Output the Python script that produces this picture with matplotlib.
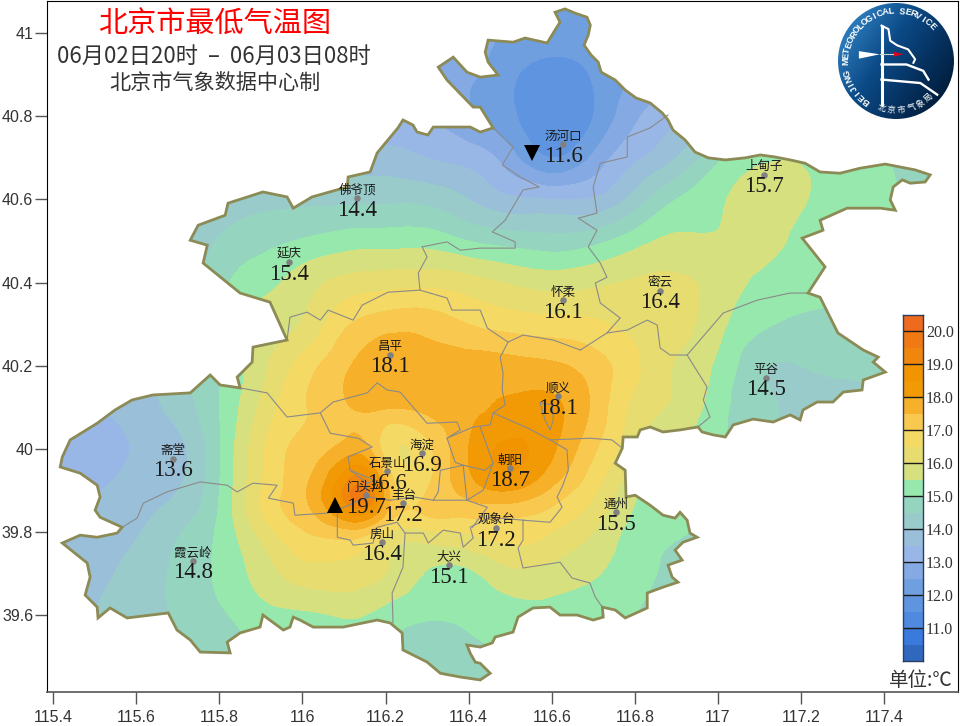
import matplotlib
matplotlib.use("Agg")
import matplotlib.pyplot as plt
import numpy as np
from matplotlib.patches import Circle, Polygon
from matplotlib.tri import Triangulation, UniformTriRefiner

plt.rcParams['font.family'] = ['Noto Sans CJK SC', 'DejaVu Sans']

# band edges and fills of the colour scale
levels = np.arange(10.0, 20.75, 0.5)
band_colors = ['#2F68BE', '#3A7ADC', '#4F8ADE', '#5F95E0', '#6F9FDF', '#85AAE3', '#99B7E6',
               '#9ABFD8', '#99CBCA', '#95D4BF', '#97E8AC', '#D7E07F', '#E7DC70', '#F4D964',
               '#F9C84F', '#F6B02A', '#F29A05', '#F29400', '#F0860C', '#F07914', '#EE6A1C']

# stations
station_names = ['汤河口', '上甸子', '佛爷顶', '延庆', '怀柔', '密云', '昌平', '平谷', '顺义', '海淀',
                 '朝阳', '斋堂', '石景山', '门头沟', '丰台', '观象台', '通州', '房山', '霞云岭', '大兴']
station_lon = [116.628, 117.111, 116.132, 115.968, 116.628, 116.861, 116.211, 117.116, 116.616, 116.288,
               116.500, 115.689, 116.204, 116.153, 116.243, 116.466, 116.755, 116.192, 115.737, 116.353]
station_lat = [40.733, 40.659, 40.603, 40.449, 40.358, 40.380, 40.226, 40.171, 40.127, 39.990,
               39.954, 39.976, 39.947, 39.889, 39.870, 39.810, 39.848, 39.776, 39.731, 39.721]
station_temp = [11.6, 15.7, 14.4, 15.4, 16.1, 16.4, 18.1, 14.5, 18.1, 16.9,
                18.7, 13.6, 16.6, 19.7, 17.2, 17.2, 15.5, 16.4, 14.8, 15.1]

# highest / lowest markers
max_lon, max_lat = 116.079, 39.865
min_lon, min_lat = 116.553, 40.712

# temperature on a lon/lat grid
grid_lon = [115.4, 115.5, 115.6, 115.7, 115.8, 115.9, 116.0, 116.1, 116.15, 116.2, 116.3, 116.4,
            116.5, 116.6, 116.7, 116.8, 116.9, 117.0, 117.1, 117.2, 117.3, 117.4, 117.5, 117.6]
grid_lat = [41.1, 41.0, 40.9, 40.8, 40.7, 40.6, 40.5, 40.4, 40.3, 40.2, 40.1, 40.0, 39.9, 39.85,
            39.8, 39.7, 39.6, 39.5, 39.4]
grid_temp = [
    [13.8, 13.8, 13.8, 13.8, 13.8, 13.7, 13.6, 13.5, 13.4, 13.3, 13.2, 13.0, 12.7, 12.6, 12.6, 13.0, 13.4, 13.8, 14.1, 14.5, 14.7, 14.8, 14.8, 14.8],
    [13.9, 13.9, 13.9, 13.9, 13.9, 13.8, 13.6, 13.5, 13.4, 13.3, 13.2, 12.9, 12.4, 12.3, 12.3, 12.8, 13.2, 13.6, 14.0, 14.4, 14.6, 14.8, 14.8, 14.8],
    [14.0, 14.0, 14.0, 14.0, 14.0, 14.0, 13.7, 13.5, 13.3, 13.2, 12.9, 12.6, 12.1, 11.8, 12.05, 12.6, 13.0, 13.6, 14.2, 14.6, 14.8, 14.9, 14.9, 14.8],
    [14.0, 14.0, 14.0, 14.0, 14.0, 14.0, 13.9, 13.6, 13.4, 13.2, 13.0, 12.6, 12.1, 11.6, 12.0, 12.9, 13.4, 14.0, 14.7, 15.0, 15.1, 15.0, 14.9, 14.8],
    [14.0, 14.0, 14.0, 14.0, 14.1, 14.1, 14.1, 13.9, 13.75, 13.7, 13.5, 13.3, 12.7, 12.0, 12.6, 13.4, 14.0, 14.9, 15.4, 15.45, 15.3, 15.05, 14.7, 14.6],
    [14.0, 14.0, 14.0, 14.0, 14.2, 14.35, 14.4, 14.4, 14.4, 14.4, 14.35, 14.0, 13.6, 13.5, 13.55, 14.2, 15.0, 15.4, 15.75, 15.55, 15.35, 15.15, 14.8, 14.7],
    [14.0, 14.0, 14.0, 14.1, 14.55, 14.85, 15.05, 15.25, 15.3, 15.3, 15.3, 15.0, 14.8, 14.7, 14.85, 15.3, 15.6, 15.55, 15.7, 15.35, 15.25, 15.1, 14.9, 14.8],
    [14.0, 14.0, 14.0, 14.1, 14.85, 15.3, 15.75, 16.15, 16.25, 16.3, 16.35, 16.2, 15.95, 15.8, 15.9, 16.05, 16.1, 15.8, 15.4, 15.2, 15.1, 15.0, 14.9, 14.8],
    [14.0, 14.0, 14.0, 14.2, 15.0, 15.75, 16.05, 16.9, 17.15, 17.3, 17.3, 17.0, 16.8, 16.7, 16.6, 16.35, 16.2, 15.65, 15.1, 14.9, 14.85, 14.8, 14.7, 14.6],
    [14.0, 14.0, 13.9, 14.3, 15.0, 15.85, 16.7, 17.4, 17.7, 17.9, 17.75, 17.75, 17.7, 17.6, 17.25, 16.6, 15.95, 15.4, 14.6, 14.5, 14.55, 14.6, 14.6, 14.5],
    [13.3, 13.5, 13.75, 14.2, 15.0, 16.1, 16.95, 17.4, 17.6, 17.55, 17.65, 17.9, 18.1, 18.1, 17.4, 16.35, 15.9, 15.2, 14.65, 14.4, 14.4, 14.4, 14.4, 14.4],
    [13.1, 13.2, 13.55, 13.85, 14.95, 16.4, 17.15, 17.7, 17.7, 16.8, 16.85, 18.0, 18.6, 18.1, 17.1, 16.1, 15.5, 15.1, 14.6, 14.3, 14.2, 14.2, 14.2, 14.2],
    [13.3, 13.45, 13.75, 14.0, 15.0, 16.5, 17.4, 19.1, 19.6, 17.8, 17.0, 17.7, 18.0, 17.4, 16.6, 15.6, 15.25, 15.0, 14.5, 14.3, 14.2, 14.2, 14.2, 14.2],
    [13.45, 13.6, 13.85, 14.2, 15.05, 16.5, 17.3, 18.5, 18.7, 17.6, 17.1, 17.2, 17.2, 16.9, 16.3, 15.45, 15.15, 14.9, 14.5, 14.3, 14.2, 14.2, 14.2, 14.2],
    [13.6, 13.7, 13.95, 14.45, 15.1, 16.15, 16.95, 17.3, 17.2, 16.6, 16.4, 16.55, 16.75, 16.5, 16.0, 15.3, 15.05, 14.8, 14.5, 14.3, 14.2, 14.2, 14.2, 14.2],
    [13.7, 13.85, 14.2, 14.6, 15.1, 15.7, 16.25, 16.3, 16.15, 16.0, 15.45, 15.4, 15.85, 15.8, 15.55, 15.2, 14.85, 14.6, 14.4, 14.2, 14.1, 14.1, 14.1, 14.1],
    [13.8, 14.0, 14.2, 14.55, 14.9, 15.3, 15.4, 15.55, 15.5, 15.3, 15.05, 15.1, 15.3, 15.3, 15.2, 15.0, 14.7, 14.5, 14.3, 14.2, 14.1, 14.1, 14.1, 14.1],
    [13.8, 13.9, 14.0, 14.3, 14.6, 15.0, 15.0, 15.0, 15.0, 15.0, 14.7, 14.8, 15.0, 15.0, 14.9, 14.8, 14.5, 14.3, 14.2, 14.1, 14.1, 14.1, 14.1, 14.1],
    [13.8, 13.8, 13.9, 14.1, 14.4, 14.8, 14.7, 14.7, 14.7, 14.7, 14.5, 14.6, 14.7, 14.8, 14.7, 14.6, 14.4, 14.2, 14.1, 14.0, 14.0, 14.0, 14.0, 14.0],
]

# city border (lon, lat)
border = [
    (116.608, 41.050), (116.632, 41.058), (116.656, 41.048), (116.685, 41.038), (116.693, 41.019), (116.688, 40.995),
    (116.678, 40.971), (116.695, 40.947), (116.712, 40.930), (116.719, 40.906), (116.753, 40.887), (116.777, 40.863),
    (116.803, 40.844), (116.837, 40.832), (116.866, 40.808), (116.880, 40.791), (116.892, 40.767), (116.921, 40.743),
    (116.945, 40.714), (116.977, 40.700), (117.018, 40.695), (117.066, 40.700), (117.102, 40.707), (117.138, 40.702),
    (117.174, 40.695), (117.210, 40.687), (117.246, 40.666), (117.294, 40.663), (117.342, 40.675), (117.403, 40.685),
    (117.439, 40.678), (117.475, 40.671), (117.511, 40.659), (117.499, 40.642), (117.463, 40.639), (117.444, 40.647),
    (117.422, 40.630), (117.415, 40.599), (117.427, 40.574), (117.391, 40.579), (117.311, 40.579), (117.246, 40.550),
    (117.253, 40.526), (117.203, 40.507), (117.258, 40.438), (117.217, 40.375), (117.246, 40.365), (117.270, 40.317),
    (117.289, 40.279), (117.350, 40.238), (117.386, 40.221), (117.374, 40.209), (117.403, 40.185), (117.350, 40.166),
    (117.347, 40.142), (117.302, 40.137), (117.277, 40.113), (117.239, 40.113), (117.205, 40.094), (117.198, 40.070),
    (117.174, 40.082), (117.133, 40.065), (117.085, 40.072), (117.037, 40.058), (117.018, 40.029), (116.989, 40.034),
    (116.962, 40.041), (116.952, 40.053), (116.909, 40.046), (116.868, 40.041), (116.837, 40.053), (116.813, 40.046),
    (116.806, 40.029), (116.772, 40.029), (116.770, 40.002), (116.753, 39.966), (116.777, 39.949), (116.779, 39.885),
    (116.801, 39.889), (116.837, 39.865), (116.868, 39.841), (116.897, 39.834), (116.909, 39.848), (116.926, 39.829),
    (116.933, 39.798), (116.950, 39.788), (116.916, 39.776), (116.897, 39.757), (116.914, 39.733), (116.880, 39.721),
    (116.890, 39.692), (116.904, 39.680), (116.868, 39.668), (116.830, 39.654), (116.830, 39.618), (116.777, 39.594),
    (116.753, 39.613), (116.722, 39.620), (116.724, 39.596), (116.700, 39.589), (116.661, 39.601), (116.620, 39.601),
    (116.596, 39.620), (116.555, 39.618), (116.519, 39.596), (116.507, 39.560), (116.464, 39.548), (116.457, 39.534),
    (116.428, 39.524), (116.396, 39.529), (116.404, 39.509), (116.416, 39.488), (116.428, 39.485), (116.452, 39.461),
    (116.428, 39.445), (116.380, 39.452), (116.332, 39.461), (116.300, 39.488), (116.242, 39.517), (116.240, 39.558),
    (116.211, 39.582), (116.180, 39.589), (116.146, 39.582), (116.098, 39.572), (116.026, 39.572), (115.994, 39.589),
    (115.978, 39.596), (115.970, 39.572), (115.954, 39.565), (115.905, 39.601), (115.898, 39.572), (115.850, 39.558),
    (115.819, 39.536), (115.826, 39.510), (115.754, 39.512), (115.730, 39.541), (115.698, 39.565), (115.677, 39.606),
    (115.578, 39.594), (115.537, 39.618), (115.508, 39.594), (115.506, 39.620), (115.477, 39.649), (115.489, 39.692),
    (115.482, 39.726), (115.422, 39.774), (115.465, 39.793), (115.506, 39.788), (115.554, 39.798), (115.566, 39.812),
    (115.513, 39.836), (115.501, 39.853), (115.513, 39.885), (115.506, 39.913), (115.465, 39.942), (115.417, 39.957),
    (115.422, 39.981), (115.441, 40.022), (115.506, 40.062), (115.549, 40.094), (115.590, 40.118), (115.640, 40.130),
    (115.730, 40.135), (115.778, 40.178), (115.802, 40.154), (115.850, 40.147), (115.843, 40.173), (115.879, 40.209),
    (115.881, 40.245), (115.963, 40.262), (115.922, 40.353), (115.850, 40.375), (115.761, 40.447), (115.771, 40.490),
    (115.730, 40.502), (115.749, 40.538), (115.814, 40.562), (115.821, 40.591), (115.905, 40.618), (115.963, 40.606),
    (115.978, 40.579), (116.023, 40.606), (116.108, 40.630), (116.110, 40.654), (116.163, 40.666), (116.180, 40.712),
    (116.230, 40.772), (116.242, 40.791), (116.266, 40.779), (116.276, 40.762), (116.302, 40.755), (116.315, 40.774),
    (116.404, 40.774), (116.428, 40.762), (116.459, 40.772), (116.428, 40.822), (116.411, 40.822), (116.348, 40.887),
    (116.327, 40.918), (116.363, 40.942), (116.396, 40.906), (116.428, 40.894), (116.471, 40.899), (116.447, 40.930),
    (116.440, 40.954), (116.447, 40.983), (116.507, 40.978), (116.536, 40.988), (116.589, 40.976), (116.608, 41.007),
    (116.620, 41.026),
]

# district boundaries (lon, lat)
districts = [
    [(116.880, 40.803), (116.837, 40.772), (116.782, 40.750), (116.782, 40.702), (116.717, 40.687), (116.700, 40.630),
     (116.709, 40.567), (116.664, 40.555), (116.709, 40.526), (116.688, 40.486), (116.717, 40.447), (116.733, 40.413),
     (116.705, 40.399), (116.717, 40.351), (116.765, 40.315), (116.733, 40.279), (116.669, 40.238)],
    [(117.217, 40.375), (117.174, 40.375), (117.095, 40.358), (117.013, 40.327), (116.957, 40.262), (116.926, 40.226),
     (116.885, 40.226), (116.861, 40.243), (116.854, 40.298), (116.830, 40.310), (116.782, 40.286), (116.733, 40.279)],
    [(116.926, 40.226), (116.974, 40.149), (116.965, 40.118), (116.981, 40.077), (116.952, 40.053)],
    [(116.283, 40.382), (116.348, 40.363), (116.360, 40.334), (116.428, 40.334), (116.445, 40.291), (116.495, 40.257),
     (116.531, 40.274), (116.604, 40.262), (116.669, 40.238)],
    [(116.495, 40.257), (116.476, 40.221), (116.483, 40.183), (116.481, 40.142), (116.488, 40.106), (116.459, 40.087),
     (116.452, 40.058), (116.411, 40.053)],
    [(116.459, 40.087), (116.543, 40.050), (116.596, 40.022), (116.692, 40.026), (116.745, 40.022), (116.770, 40.002)],
    [(116.596, 40.022), (116.637, 39.998), (116.640, 39.949), (116.625, 39.909), (116.613, 39.885), (116.625, 39.860),
     (116.596, 39.824), (116.531, 39.829)],
    [(116.531, 39.829), (116.531, 39.781), (116.519, 39.762), (116.531, 39.714), (116.620, 39.728), (116.649, 39.690),
     (116.692, 39.678), (116.705, 39.644), (116.722, 39.620)],
    [(115.963, 40.262), (115.970, 40.317), (116.011, 40.329), (116.043, 40.310), (116.062, 40.334), (116.122, 40.310),
     (116.144, 40.346), (116.206, 40.377), (116.283, 40.382), (116.279, 40.423), (116.300, 40.462), (116.288, 40.486),
     (116.348, 40.498), (116.380, 40.478), (116.428, 40.483), (116.512, 40.483), (116.512, 40.498), (116.457, 40.522),
     (116.488, 40.550), (116.531, 40.623), (116.570, 40.630), (116.524, 40.654), (116.481, 40.683), (116.507, 40.726),
     (116.459, 40.772)],
    [(115.850, 40.147), (115.915, 40.135), (115.963, 40.077), (116.043, 40.087), (116.074, 40.113), (116.156, 40.135),
     (116.180, 40.159), (116.204, 40.142), (116.235, 40.137), (116.300, 40.062), (116.372, 40.065), (116.380, 40.046),
     (116.348, 40.026), (116.411, 40.053)],
    [(116.043, 40.087), (116.067, 40.038), (116.134, 40.026), (116.168, 40.005), (116.110, 39.981), (116.115, 39.949),
     (116.156, 39.918), (116.151, 39.889)],
    [(115.566, 39.812), (115.602, 39.834), (115.617, 39.870), (115.674, 39.897), (115.754, 39.921), (115.819, 39.913),
     (115.843, 39.897), (115.881, 39.918), (115.939, 39.913), (115.918, 39.882), (115.978, 39.870), (115.982, 39.841),
     (116.060, 39.846), (116.084, 39.853), (116.156, 39.885), (116.211, 39.877), (116.266, 39.885), (116.315, 39.877),
     (116.396, 39.877)],
    [(116.084, 39.853), (116.084, 39.788), (116.115, 39.781), (116.122, 39.769), (116.170, 39.774), (116.180, 39.812),
     (116.228, 39.824), (116.247, 39.798), (116.242, 39.716), (116.216, 39.654), (116.218, 39.582)],
    [(116.247, 39.798), (116.291, 39.798), (116.303, 39.774), (116.339, 39.805), (116.380, 39.798), (116.387, 39.764),
     (116.411, 39.786), (116.404, 39.812), (116.452, 39.836), (116.531, 39.829)],
    [(116.348, 40.026), (116.368, 39.968), (116.387, 39.961), (116.332, 39.949), (116.327, 39.897), (116.315, 39.877)],
    [(116.387, 39.961), (116.396, 39.877), (116.445, 39.860), (116.409, 39.812)],
    [(116.387, 39.961), (116.440, 39.949), (116.459, 39.966), (116.428, 40.053)],
    [(116.459, 39.966), (116.435, 39.901), (116.396, 39.877)],
    [(116.115, 39.949), (116.175, 39.925), (116.156, 39.918)],
    [(116.572, 40.111), (116.584, 40.070), (116.596, 40.046), (116.604, 40.070), (116.601, 40.106), (116.572, 40.111)],
]

# axis ticks
x_ticks = [115.4, 115.6, 115.8, 116.0, 116.2, 116.4, 116.6, 116.8, 117.0, 117.2, 117.4]
x_labels = ['115.4', '115.6', '115.8', '116', '116.2', '116.4', '116.6', '116.8', '117', '117.2', '117.4']
y_ticks = [39.6, 39.8, 40.0, 40.2, 40.4, 40.6, 40.8, 41.0]
y_labels = ['39.6', '39.8', '40', '40.2', '40.4', '40.6', '40.8', '41']
bar_ticks = [11, 12, 13, 14, 15, 16, 17, 18, 19, 20]

W, H = 960, 726
fig = plt.figure(figsize=(W / 100, H / 100), dpi=100)
ax = fig.add_axes([46.5 / W, 1 - 692 / H, (958 - 46.5) / W, (692 - 1) / H])
ax.set_xlim(115.384, 117.578)
ax.set_ylim(39.416, 41.077)

# filled temperature bands, cut to the border
lon2d, lat2d = np.meshgrid(grid_lon, grid_lat)
tri = Triangulation(lon2d.ravel(), lat2d.ravel())
tri_fine, temp_fine = UniformTriRefiner(tri).refine_field(np.array(grid_temp).ravel(), subdiv=3)
bands = ax.tricontourf(tri_fine, temp_fine, levels=levels, colors=band_colors, zorder=1)
clip = Polygon(border, closed=True, transform=ax.transData, facecolor='none', edgecolor='none')
ax.add_patch(clip)
bands.set_clip_path(clip)

for line in districts:
    xy = np.array(line)
    ax.plot(xy[:, 0], xy[:, 1], color='#8a8a8a', lw=0.8, zorder=2)
ax.add_patch(Polygon(border, closed=True, facecolor='none', edgecolor='#8C8A55', lw=2.0, zorder=3))

# stations
ax.scatter(station_lon, station_lat, s=22, color='#808080', zorder=4, linewidths=0)
for name, lon, lat, temp in zip(station_names, station_lon, station_lat, station_temp):
    ax.annotate(name, (lon, lat), xytext=(0, 5.8), textcoords='offset points', ha='center', va='center',
                fontsize=9, color='#1a1a1a', zorder=5)
    ax.annotate('%.1f' % temp, (lon, lat), xytext=(0, -8.6), textcoords='offset points', ha='center', va='center',
                fontsize=16.5, family='Liberation Serif', color='#1a1a1a', zorder=5)
ax.plot(max_lon, max_lat, '^', color='black', ms=12, mew=0, zorder=6)
ax.plot(min_lon, min_lat, 'v', color='black', ms=12, mew=0, zorder=6)

ax.set_xticks(x_ticks)
ax.set_xticklabels(x_labels, family='Liberation Sans', fontsize=11.5, color='#333333')
ax.set_yticks(y_ticks)
ax.set_yticklabels(y_labels, family='Liberation Sans', fontsize=11.5, color='#333333')
ax.tick_params(axis='both', length=8.6, width=1, color='#555555')
ax.tick_params(axis='x', pad=4)
ax.tick_params(axis='y', pad=1)
for side in ['left', 'top', 'right']:
    ax.spines[side].set_color('black')
ax.spines['bottom'].set_color('#555555')
ax.spines['bottom'].set_linewidth(1.2)

# titles
fig.text(215 / W, 1 - 25 / H, '北京市最低气温图', color='red', fontsize=21, ha='center', va='center')
fig.text(214 / W, 1 - 56 / H, '06月02日20时  –  06月03日08时', color='#333333', fontsize=16, ha='center', va='center')
fig.text(215 / W, 1 - 83 / H, '北京市气象数据中心制', color='#333333', fontsize=15.2, ha='center', va='center')
fig.text(921 / W, 1 - 680 / H, '单位:℃', color='#333333', fontsize=14, ha='center', va='center')

# colour scale
bar = fig.add_axes([903 / W, 1 - 661 / H, 20 / W, 346 / H])
bar.barh(levels[:-1], 1, height=0.5, align='edge', color=band_colors, linewidth=0)
bar.hlines(bar_ticks, 0, 1, color='#1a1a1a', lw=1)
bar.set_xlim(0, 1)
bar.set_ylim(10, 20.5)
bar.set_xticks([])
bar.yaxis.tick_right()
bar.set_yticks(bar_ticks)
bar.set_yticklabels(['%.1f' % t for t in bar_ticks], family='Liberation Serif', fontsize=11.5, color='#333333')
bar.tick_params(axis='y', length=0, pad=2)
for s in bar.spines.values():
    s.set_color('#2a3f5f')
    s.set_linewidth(1)

# logo
logo = fig.add_axes([838 / W, 1 - 119 / H, 116 / W, 116 / H])
logo.set_xlim(-1, 1)
logo.set_ylim(-1, 1)
logo.axis('off')
ramp = np.linspace(0, 1, 64)
gx, gy = np.meshgrid(ramp, ramp)
shade = np.clip(0.6 * gx + 0.4 * (1 - gy), 0, 1)
img = logo.imshow(shade, extent=(-1, 1, -1, 1), origin='lower', cmap=plt.cm.colors.LinearSegmentedColormap.from_list(
    'logo', ['#2B78B8', '#0B4A86', '#052F5C', '#001830']), vmin=0.15, vmax=0.95, aspect='auto')
disc = Circle((0, 0), 1, transform=logo.transData, facecolor='none', edgecolor='none')
logo.add_patch(disc)
img.set_clip_path(disc)
logo.plot([-0.25, -0.25], [0.61, -0.75], color='white', lw=2.2, solid_capstyle='round')
logo.plot([-0.25, -0.13, -0.10, 0.02, 0.21, 0.33, 0.30], [0.61, 0.55, 0.35, 0.27, 0.20, 0.03, -0.03], color='white', lw=1.5)
logo.plot([-0.25, 0.18, 0.47, 0.56], [-0.06, -0.06, -0.17, -0.32], color='white', lw=1.7)
logo.plot([-0.25, 0.42, 0.71], [-0.32, -0.38, -0.58], color='white', lw=1.7)
logo.fill([-0.64, -0.64, -0.28], [0.17, 0.04, 0.115], color='white', lw=0)
logo.plot([-0.28, -0.05], [0.115, 0.115], color='#C8D0D8', lw=0.8)
logo.fill([-0.05, 0.13, -0.05], [0.16, 0.115, 0.075], color='#E0001B', lw=0)
ring = 'BEIJING METEOROLOGICAL SERVICE'
for i, ang in enumerate(np.linspace(233, 44, len(ring))):
    rad = np.radians(ang)
    logo.text(0.86 * np.cos(rad), 0.86 * np.sin(rad), ring[i], rotation=ang - 90, rotation_mode='anchor',
              color='white', fontsize=6.5, weight='bold', family='Liberation Sans', ha='center', va='center')
seal = '北京市气象局'
for i, ang in enumerate(np.linspace(253, 312, len(seal))):
    rad = np.radians(ang)
    logo.text(0.85 * np.cos(rad), 0.85 * np.sin(rad), seal[i], rotation=ang + 90, rotation_mode='anchor',
              color='white', fontsize=6, ha='center', va='center')

fig.savefig('out.png', dpi=100)
